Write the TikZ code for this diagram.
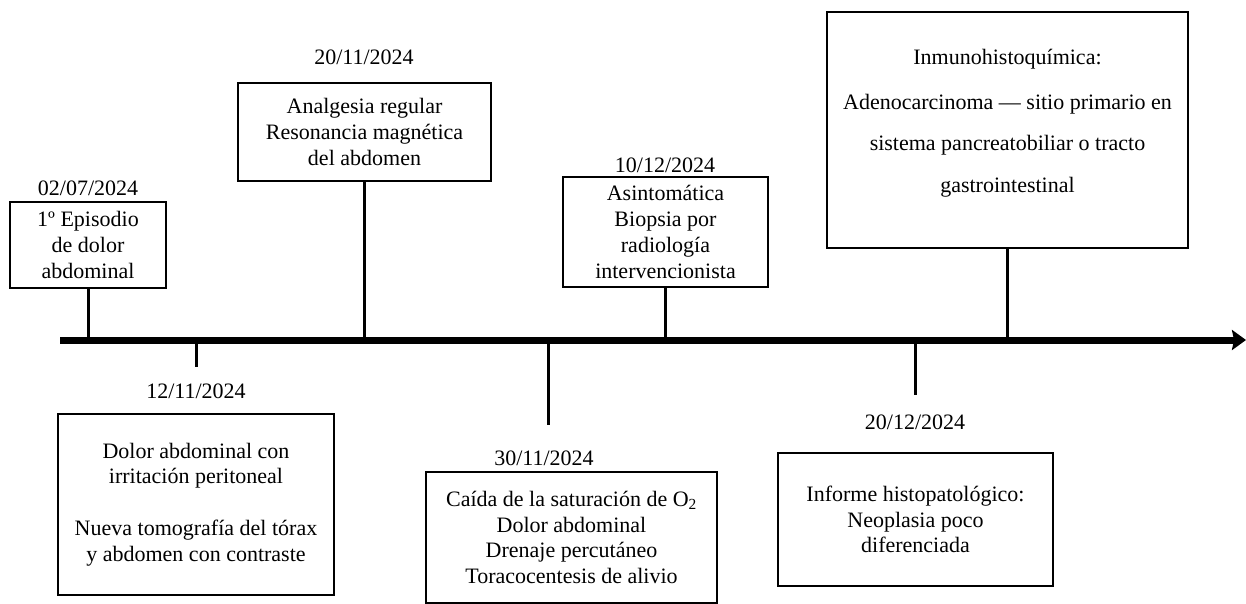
\documentclass[tikz,border=0pt]{standalone}
\usepackage{fontspec}
\setmainfont{Liberation Serif}
\usetikzlibrary{arrows.meta}
\begin{document}
\begin{tikzpicture}[x=1pt,y=-1pt,
  evento/.style={draw,line width=2.5pt,inner sep=0pt,align=center,
    font=\fontsize{22}{25.8}\selectfont},
  fecha/.style={inner sep=0pt,font=\fontsize{22}{25.8}\selectfont},
  tallo/.style={line width=3pt}]
  \useasboundingbox (0,0) rectangle (1246,604);

  % eventos sobre la linea
  \node[evento,minimum width=156pt,minimum height=86pt] (ep1) at (88,245) {1º Episodio\\de dolor\\abdominal};
  \node[fecha] (f1) at (88,188) {02/07/2024};

  \node[evento,minimum width=253pt,minimum height=98pt] (ep3) at (364.5,132) {Analgesia regular\\Resonancia magnética\\del abdomen};
  \node[fecha] (f3) at (364,57) {20/11/2024};

  \node[evento,minimum width=205pt,minimum height=110pt] (ep5) at (665.5,232) {Asintomática\\Biopsia por\\radiología\\intervencionista};
  \node[fecha] (f5) at (665,165) {10/12/2024};

  \node[evento,minimum width=361pt,minimum height=236pt,text depth=19pt,
    font=\fontsize{22}{41.5}\selectfont] (ep7) at (1007.5,130) {Inmunohistoquímica:\\[3.5pt]Adenocarcinoma --- sitio primario en\\sistema pancreatobiliar o tracto\\gastrointestinal};

  % eventos bajo la linea
  \node[evento,minimum width=276pt,minimum height=181pt] (ep2) at (196,504.5) {Dolor abdominal con\\irritación peritoneal\\[26pt]Nueva tomografía del tórax\\y abdomen con contraste};
  \node[fecha] (f2) at (196,391) {12/11/2024};

  \node[evento,minimum width=291pt,minimum height=131pt] (ep4) at (571.5,537.5) {Caída de la saturación de O\textsubscript{2}\\Dolor abdominal\\Drenaje percutáneo\\Toracocentesis de alivio};
  \node[fecha] (f4) at (544,458) {30/11/2024};

  \node[evento,minimum width=275pt,minimum height=133pt] (ep6) at (915.5,519.5) {Informe histopatológico:\\Neoplasia poco\\diferenciada};
  \node[fecha] (f6) at (915,422) {20/12/2024};

  % linea de tiempo
  \coordinate (inicio) at (60,340);
  \coordinate (fin) at (1246,340);
  \coordinate (t2) at (196,367);
  \coordinate (t4) at (548,425);
  \coordinate (t6) at (915,395);

  \draw[tallo] (ep1.south) -- (ep1.south |- inicio);
  \draw[tallo] (ep3.south) -- (ep3.south |- inicio);
  \draw[tallo] (ep5.south) -- (ep5.south |- inicio);
  \draw[tallo] (ep7.south) -- (ep7.south |- inicio);
  \draw[tallo] (t2 |- inicio) -- (t2);
  \draw[tallo] (t4 |- inicio) -- (t4);
  \draw[tallo] (t6 |- inicio) -- (t6);

  \draw[line width=7pt,-{Stealth[length=14pt,width=20pt,inset=2pt]}] (inicio) -- (fin);
\end{tikzpicture}
\end{document}
